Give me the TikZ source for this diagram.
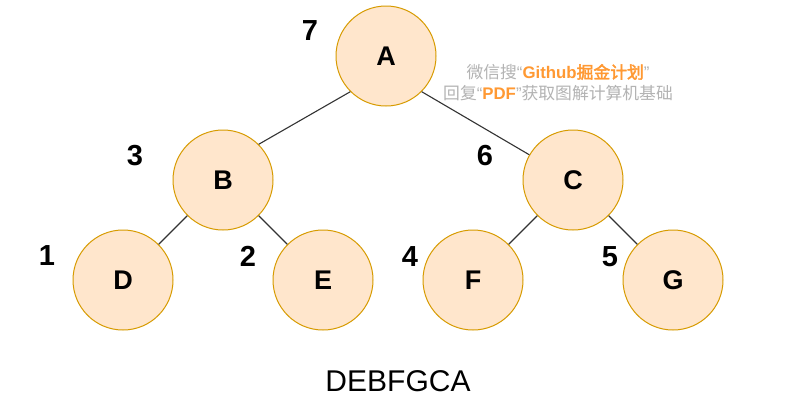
\documentclass[tikz,border=0pt]{standalone}
\usepackage{fontspec}
\setmainfont{Liberation Sans}
\newfontfamily\cjk{Noto Sans CJK SC}[AutoFakeBold=2.5]
\definecolor{nodefill}{HTML}{FFE6CC}
\definecolor{nodedraw}{HTML}{D79B00}
\definecolor{edgecol}{HTML}{333333}
\definecolor{wmgray}{HTML}{B3B3B3}
\definecolor{wmorange}{HTML}{FF9933}
\begin{document}
\begin{tikzpicture}[x=1pt,y=-1pt,
  treenode/.style={circle,draw=nodedraw,fill=nodefill,line width=1pt,minimum size=100pt,inner sep=0pt,font=\fontsize{27}{32}\selectfont\bfseries},
  ordlabel/.style={inner sep=0pt,font=\fontsize{29}{34}\selectfont\bfseries},
  edge/.style={draw=edgecol,line width=1.1pt},
  wm/.style={inner sep=0pt,font=\fontsize{16.8}{20}\selectfont,text=wmgray}]
\useasboundingbox[fill=white] (0,0) rectangle (792,410);
\node[treenode] (A) at (386,56) {A};
\node[treenode] (B) at (223,180) {B};
\node[treenode] (C) at (573,180) {C};
\node[treenode] (D) at (123,280) {D};
\node[treenode] (E) at (323,280) {E};
\node[treenode] (F) at (473,280) {F};
\node[treenode] (G) at (673,280) {G};
\draw[edge] (A.south west) -- (B.north east);
\draw[edge] (A.south east) -- (C.150);
\draw[edge] (B.south west) -- (D.north east);
\draw[edge] (B.south east) -- (E.north west);
\draw[edge] (C.south west) -- (F.north east);
\draw[edge] (C.south east) -- (G.north west);
\node[ordlabel] (n7) at (310,31) {7};
\node[ordlabel] (n3) at (135,156) {3};
\node[ordlabel] (n6) at (485,156) {6};
\node[ordlabel] (n1) at (47,256) {1};
\node[ordlabel] (n2) at (248,256) {2};
\node[ordlabel] (n4) at (410,257) {4};
\node[ordlabel] (n5) at (610,257) {5};
\node[inner sep=0pt,font=\fontsize{30}{36}\selectfont] (seq) at (398,381) {DEBFGCA};
\node[wm] (wm1) at (558,72) {{\cjk 微信搜}“{\color{wmorange}\bfseries Github{\cjk\bfseries 掘金计划}}”};
\node[wm] (wm2) at (558,93) {{\cjk 回复}“{\color{wmorange}\bfseries PDF}”{\cjk 获取图解计算机基础}};
\end{tikzpicture}
\end{document}
